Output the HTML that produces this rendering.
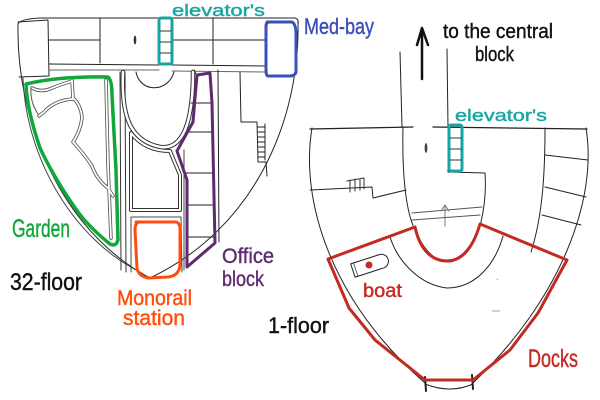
<!DOCTYPE html>
<html>
<head>
<meta charset="utf-8">
<style>
html,body{margin:0;padding:0;background:#fff;}
svg{display:block;}
text{font-family:"Liberation Sans",sans-serif;}
</style>
</head>
<body>
<svg width="600" height="400" viewBox="0 0 600 400" xmlns="http://www.w3.org/2000/svg">
<rect width="600" height="400" fill="#fff"/>

<!-- ================= LEFT BUILDING (32-floor) ================= -->
<g fill="none" stroke="#222" stroke-width="1" stroke-linecap="round" stroke-linejoin="round">
  <path d="M18,24 C16,120 60,230 150,278 C255,228 300,120 298,22"/>
  <path d="M23,78 C26,160 75,240 140,272" stroke="#444"/>
  <path d="M18,24 Q20,19 40,18 L295,18 Q299,19 298,24"/>
  <path d="M18,22 L48,20 L49,76 L19,77"/>
  <path d="M49,64 L159,65"/>
  <path d="M172,65 L266,66"/>
  <path d="M49,70 L159,70 M172,71 L266,72" stroke="#666"/>
  <path d="M100,18 L100,63 M49,40 L100,40"/>
  <path d="M213,18 L213,64 M172,40 L266,40"/>
  <ellipse cx="135" cy="40" rx="1.3" ry="4.5" fill="#333" stroke="none"/>

  <path d="M120,72 L121,270 M125,72 L126,272" stroke="#333"/>

  <path d="M136,72 C140,93 168,93 174,72"/>

  <path d="M123,72 C121,118 131,141 160,147 C182,150 193,125 193,72" stroke="#333" stroke-width="4.5"/>
  <path d="M123,72 C121,118 131,141 160,147 C182,150 193,125 193,72" stroke="#fff" stroke-width="2.5"/>

  <path d="M131,133 Q145,151 170,151 L180,175 L180,210 L131,210 Z" stroke="#333" stroke-width="4"/>
  <path d="M131,133 Q145,151 170,151 L180,175 L180,210 L131,210 Z" stroke="#fff" stroke-width="2"/>

  <path d="M132,217 L181,217 L182,272 M131,217 L131,272" stroke="#444"/>
  <path d="M184,150 L184,270" stroke="#444"/>

  <path d="M191,103 L212,103 M186,132 L213,132 M186,173 L213,173 M188,205 L214,205 M188,237 L215,237"/>
  <path d="M218,70 L219,242"/>
  <path d="M194,70 L196,74"/>

  <path d="M240,72 L241,122 L257,122 L258,162 L266,162 L267,176"/>
  <path d="M258,127 L265,127 M258,132 L265,132 M258,137 L265,137 M258,142 L265,142 M258,147 L265,147 M258,152 L265,152 M258,157 L265,157 M265,124 L265,160"/>

  <g stroke="#555" stroke-width="3.5">
    <path d="M32,88 Q42,93 52,88 Q62,84 72,81"/>
    <path d="M72,80 L73,98 Q81,105 82,118 Q80,132 73,142 Q85,155 92,166 Q97,180 108,188 L113,196"/>
    <path d="M73,99 Q55,100 44,112 L39,116"/>
    <path d="M106,80 L108,165 L111,238"/>
  </g>
  <g stroke="#fff" stroke-width="1.8">
    <path d="M32,88 Q42,93 52,88 Q62,84 72,81"/>
    <path d="M72,80 L73,98 Q81,105 82,118 Q80,132 73,142 Q85,155 92,166 Q97,180 108,188 L113,196"/>
    <path d="M73,99 Q55,100 44,112 L39,116"/>
    <path d="M106,80 L108,165 L111,238"/>
  </g>
  <path d="M31,88 Q30,102 38,114" stroke="#555"/>
</g>

<g fill="none" stroke-linejoin="round" stroke-linecap="round">
  <rect x="159" y="18" width="13" height="46" rx="2" stroke="#17a6a3" stroke-width="3"/>
  <path d="M160,31 L171,31 M160,42 L171,42 M160,53 L171,53" stroke="#333" stroke-width="1"/>
  <path d="M267,22 L292,22 Q296,24 296,34 L296,72 Q295,76 290,76 L268,76 Q266,76 266,70 L266,26 Q266,22 270,22" stroke="#3b4fb8" stroke-width="3"/>
  <path d="M26,84 Q60,76 108,77 Q112,80 112,95 L116,170 L118,240 Q116,247 110,244 Q90,228 78,212 Q55,180 40,148 Q27,110 26,84 Z" stroke="#10a83a" stroke-width="3.5"/>
  <path d="M197,75 L210,73 L212,103 L215,243 L187,267 L187,180 L177,151 L193,122 L197,75 Z" stroke="#5f2b70" stroke-width="3"/>
  <path d="M136,222 L176,222 Q181,223 180,235 L180,265 Q179,276 168,277 L148,278 Q138,276 137,268 L135,230 Q135,222 140,222" stroke="#ff4d0d" stroke-width="3"/>
</g>

<!-- ================= RIGHT BUILDING (1-floor) ================= -->
<g fill="none" stroke="#222" stroke-width="1" stroke-linecap="round" stroke-linejoin="round">
  <path d="M312,128 C300,200 330,300 425,383"/>
  <path d="M586,128 C598,200 560,300 473,383"/>
  <path d="M425,384 Q450,394 473,384"/>
  <path d="M310,129 L413,127 M433,127 L587,129" stroke-width="1.3"/>
  <path d="M400,52 L402,127"/>
  <path d="M447,49 L448,127"/>
  <path d="M403,127 C402,170 405,212 416,232 C425,252 436,261 447,262 C465,262 476,243 481,222 C485,205 486,188 485,173 L448,172 L448,127"/>
  <path d="M412,213 L482,207 M412,220 L480,215" stroke="#555"/>
  <path d="M445,226 L445,206 M441,211 L445,205 L449,211" stroke="#777"/>
  <ellipse cx="426" cy="148" rx="1.4" ry="5" fill="#444" stroke="none"/>
  <path d="M390,237 C398,262 420,285 447,288 C475,288 495,265 503,236"/>
  <path d="M310,190 L372,187 L373,198 L406,190"/>
  <path d="M347,181 L364,178 M350,180 L350,192 M355,179 L355,191 M360,179 L360,190 M364,178 L364,189" stroke="#333"/>
  <path d="M545,128 C545,170 543,215 531,252"/>
  <path d="M545,155 L588,160 M545,187 L586,197 M542,215 L581,225"/>
  <path d="M492,311 L500,311 M497,279 L498,280" stroke="#aaa"/>
  <path d="M425,377 L426,391 M472,375 L473,389" stroke-width="2"/>
</g>

<g fill="none" stroke="#111" stroke-width="2.5" stroke-linecap="round" stroke-linejoin="round">
  <path d="M422,79 L422,30"/>
  <path d="M417,45 L422,28 L428,45"/>
</g>

<g fill="none" stroke-linejoin="round" stroke-linecap="round">
  <rect x="449" y="125" width="13" height="46" rx="2" stroke="#17a6a3" stroke-width="3"/>
  <path d="M450,138 L461,138 M450,149 L461,149 M450,160 L461,160" stroke="#333" stroke-width="1"/>
  <path d="M328,259 L415,227 C420,250 432,261 447,261 C463,261 474,245 480,224 L567,260 L538,313 L510,350 L473,380 L425,380 L375,340 L349,308 Z" stroke="#c32a22" stroke-width="3"/>
  <g transform="translate(370,265) rotate(-18)">
    <path d="M-18,-7 L12,-7 A7,7 0 0 1 12,7 L-18,7 Z" stroke="#222" stroke-width="1" fill="#fff"/>
    <path d="M-15,-7 L-15,7" stroke="#444" stroke-width="0.8"/>
  </g>
  <circle cx="369" cy="265" r="3.5" fill="#c32a22" stroke="none"/>
</g>

<!-- ================= LABELS ================= -->
<g stroke-width="0.4">
  <text x="172" y="16" font-size="17" fill="#17a6a3" stroke="#17a6a3" textLength="93" lengthAdjust="spacingAndGlyphs">elevator's</text>
  <text x="304" y="34" font-size="22" fill="#3b4fb8" stroke="#3b4fb8" textLength="70" lengthAdjust="spacingAndGlyphs">Med-bay</text>
  <text x="443" y="38" font-size="20" fill="#111" stroke="#111" textLength="110" lengthAdjust="spacingAndGlyphs">to the central</text>
  <text x="475" y="61" font-size="20" fill="#111" stroke="#111" textLength="39" lengthAdjust="spacingAndGlyphs">block</text>
  <text x="455" y="121" font-size="17" fill="#17a6a3" stroke="#17a6a3" textLength="92" lengthAdjust="spacingAndGlyphs">elevator's</text>
  <text x="12" y="237" font-size="25" fill="#10a83a" stroke="#10a83a" textLength="58" lengthAdjust="spacingAndGlyphs">Garden</text>
  <text x="10" y="290" font-size="24" fill="#111" stroke="#111" textLength="72" lengthAdjust="spacingAndGlyphs">32-floor</text>
  <text x="117" y="305" font-size="21" fill="#ff4d0d" stroke="#ff4d0d" textLength="75" lengthAdjust="spacingAndGlyphs">Monorail</text>
  <text x="123" y="325" font-size="21" fill="#ff4d0d" stroke="#ff4d0d" textLength="62" lengthAdjust="spacingAndGlyphs">station</text>
  <text x="222" y="263" font-size="21" fill="#5f2b70" stroke="#5f2b70" textLength="52" lengthAdjust="spacingAndGlyphs">Office</text>
  <text x="222" y="286" font-size="21" fill="#5f2b70" stroke="#5f2b70" textLength="42" lengthAdjust="spacingAndGlyphs">block</text>
  <text x="363" y="297" font-size="19" fill="#c32a22" stroke="#c32a22" textLength="39" lengthAdjust="spacingAndGlyphs">boat</text>
  <text x="268" y="333" font-size="22" fill="#111" stroke="#111" textLength="61" lengthAdjust="spacingAndGlyphs">1-floor</text>
  <text x="528" y="367" font-size="25" fill="#c32a22" stroke="#c32a22" textLength="50" lengthAdjust="spacingAndGlyphs">Docks</text>
</g>
</svg>
</body>
</html>
